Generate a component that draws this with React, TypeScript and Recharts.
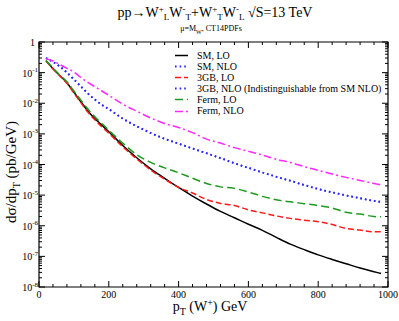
import React from 'react';
import { LineChart, Line, XAxis, YAxis, ReferenceArea, Legend } from 'recharts';

// pT of the W+ (GeV)
const ptBins = [
  20, 40, 60, 80, 100, 120, 140, 160, 180, 200, 240, 280, 320, 360, 400,
  440, 480, 520, 560, 600, 640, 680, 720, 760, 800, 840, 880, 920, 960, 980,
];

// dsigma/dpT (pb/GeV)
const smLo = [
  2.45e-1, 1.35e-1, 7.94e-2, 4.68e-2, 2.29e-2, 1.12e-2, 5.62e-3, 3.16e-3, 1.91e-3, 1.17e-3,
  4.17e-4, 1.66e-4, 7.24e-5, 3.55e-5, 1.78e-5, 9.33e-6, 5.13e-6, 2.95e-6, 1.82e-6, 1.12e-6,
  7.08e-7, 4.17e-7, 2.51e-7, 1.66e-7, 1.12e-7, 7.94e-8, 5.75e-8, 4.17e-8, 3.16e-8, 2.75e-8,
];
const smNlo = [
  3.02e-1, 2.24e-1, 1.58e-1, 1.0e-1, 6.03e-2, 3.55e-2, 2.09e-2, 1.32e-2, 8.91e-3, 6.46e-3,
  3.16e-3, 1.78e-3, 1.07e-3, 6.92e-4, 4.79e-4, 3.31e-4, 2.34e-4, 1.62e-4, 1.1e-4, 7.76e-5,
  5.5e-5, 3.98e-5, 2.95e-5, 2.14e-5, 1.58e-5, 1.23e-5, 9.77e-6, 7.94e-6, 6.46e-6, 6.03e-6,
];
const gb3Lo = [
  2.45e-1, 1.35e-1, 7.76e-2, 4.47e-2, 2.14e-2, 1.05e-2, 5.13e-3, 2.88e-3, 1.7e-3, 1.05e-3,
  3.8e-4, 1.51e-4, 6.61e-5, 3.31e-5, 1.78e-5, 1.17e-5, 7.24e-6, 5.37e-6, 4.57e-6, 3.31e-6,
  2.63e-6, 2.09e-6, 1.74e-6, 1.51e-6, 1.35e-6, 1.1e-6, 8.13e-7, 7.24e-7, 6.31e-7, 6.31e-7,
];
// indistinguishable from SM NLO
const gb3Nlo = [
  3.02e-1, 2.24e-1, 1.58e-1, 1.0e-1, 6.03e-2, 3.55e-2, 2.09e-2, 1.32e-2, 8.91e-3, 6.46e-3,
  3.16e-3, 1.78e-3, 1.07e-3, 6.92e-4, 4.79e-4, 3.31e-4, 2.34e-4, 1.62e-4, 1.1e-4, 7.76e-5,
  5.5e-5, 3.98e-5, 2.95e-5, 2.14e-5, 1.58e-5, 1.23e-5, 9.77e-6, 7.94e-6, 6.46e-6, 6.03e-6,
];
const fermLo = [
  2.51e-1, 1.41e-1, 8.32e-2, 5.01e-2, 2.51e-2, 1.26e-2, 6.46e-3, 3.63e-3, 2.19e-3, 1.32e-3,
  5.01e-4, 2.09e-4, 1.17e-4, 7.76e-5, 5.37e-5, 3.55e-5, 2.4e-5, 1.86e-5, 1.66e-5, 1.26e-5,
  9.12e-6, 7.08e-6, 6.03e-6, 5.25e-6, 4.57e-6, 3.8e-6, 2.75e-6, 2.4e-6, 2.0e-6, 1.95e-6,
];
const fermNlo = [
  2.82e-1, 2.4e-1, 1.82e-1, 1.38e-1, 1.05e-1, 6.92e-2, 4.79e-2, 3.47e-2, 2.51e-2, 1.82e-2,
  9.33e-3, 5.5e-3, 3.31e-3, 2.19e-3, 1.62e-3, 1.1e-3, 6.76e-4, 5.01e-4, 3.55e-4, 2.69e-4,
  2.04e-4, 1.48e-4, 1.17e-4, 8.51e-5, 6.46e-5, 4.9e-5, 3.8e-5, 3.02e-5, 2.4e-5, 2.14e-5,
];

const xMajorTicks = [0, 200, 400, 600, 800, 1000];
const yMajorTicks = [1e-8, 1e-7, 1e-6, 1e-5, 1e-4, 1e-3, 1e-2, 1e-1, 1];

const W = 399;
const H = 321;
const PLOT = { left: 39, right: 388, top: 42, bottom: 287 };

const series = [
  { key: 'smLo', name: 'SM, LO', color: '#000000', dash: undefined, width: 1.5 },
  { key: 'smNlo', name: 'SM, NLO', color: '#2a2aff', dash: '1.6 3', width: 1.8 },
  { key: 'gb3Lo', name: '3GB, LO', color: '#ff1a1a', dash: '6 3', width: 1.5 },
  { key: 'gb3Nlo', name: '3GB, NLO (Indistinguishable from SM NLO)', color: '#2a2aff', dash: '1.6 3', width: 1.8 },
  { key: 'fermLo', name: 'Ferm, LO', color: '#1e9a1e', dash: '8 4', width: 1.5 },
  { key: 'fermNlo', name: 'Ferm, NLO', color: '#ff2aff', dash: '8 3 2 3', width: 1.5 },
];

const data = ptBins.map((pt, i) => ({
  pt,
  smLo: smLo[i],
  smNlo: smNlo[i],
  gb3Lo: gb3Lo[i],
  gb3Nlo: gb3Nlo[i],
  fermLo: fermLo[i],
  fermNlo: fermNlo[i],
}));

// major + minor ticks (minor every 40 GeV, log minors 2..9)
const xTicks: number[] = [];
for (let v = 0; v <= 1000; v += 40) xTicks.push(v);
const yMajorSet = new Set(yMajorTicks);
const yTicks: number[] = [];
yMajorTicks.forEach((m, i) => {
  yTicks.push(m);
  if (i < yMajorTicks.length - 1) for (let k = 2; k <= 9; k++) yTicks.push(k * m);
});

function XTick(props: any) {
  const { x, payload } = props;
  const v = payload.value;
  const major = xMajorTicks.includes(v);
  const len = major ? 6 : 3;
  return (
    <g>
      <line x1={x} x2={x} y1={PLOT.bottom} y2={PLOT.bottom - len} stroke="#000" />
      <line x1={x} x2={x} y1={PLOT.top} y2={PLOT.top + len} stroke="#000" />
      {major && (
        <text x={x} y={PLOT.bottom + 11} textAnchor="middle" fontSize={10} fill="#000">
          {v}
        </text>
      )}
    </g>
  );
}

function YTick(props: any) {
  const { y, payload } = props;
  const v = payload.value;
  const major = yMajorSet.has(v);
  const len = major ? 6 : 3;
  const exp = Math.round(Math.log10(v));
  return (
    <g>
      <line x1={PLOT.left} x2={PLOT.left + len} y1={y} y2={y} stroke="#000" />
      <line x1={PLOT.right} x2={PLOT.right - len} y1={y} y2={y} stroke="#000" />
      {major &&
        (exp === 0 ? (
          <text x={PLOT.left - 4} y={y + 3.5} textAnchor="end" fontSize={10} fill="#000">
            1
          </text>
        ) : (
          <text x={PLOT.left - 1} y={y + 4} textAnchor="end" fontSize={10} fill="#000">
            10
            <tspan dy={-4.5} fontSize={7}>
              {exp}
            </tspan>
          </text>
        ))}
    </g>
  );
}

function LegendBox() {
  return (
    <div style={{ fontSize: 10, lineHeight: '11.1px', color: '#000' }}>
      {series.map((s) => (
        <div key={s.key} style={{ display: 'flex', alignItems: 'center', height: 11.1 }}>
          <svg width={14} height={11} style={{ display: 'block' }}>
            <line
              x1={0}
              x2={13}
              y1={5.5}
              y2={5.5}
              stroke={s.color}
              strokeWidth={s.width}
              strokeDasharray={s.dash}
            />
          </svg>
          <span style={{ marginLeft: 8, whiteSpace: 'nowrap' }}>{s.name}</span>
        </div>
      ))}
    </div>
  );
}

export default function App() {
  return (
    <div
      style={{
        position: 'absolute',
        left: 0,
        top: 0,
        width: W,
        height: H,
        background: '#fff',
        fontFamily: '"Liberation Serif", "DejaVu Serif", serif',
      }}
    >
      <LineChart width={W} height={H} data={data} margin={{ top: 42, right: 11, bottom: 0, left: 0 }}>
        <XAxis
          dataKey="pt"
          type="number"
          domain={[0, 1000]}
          ticks={xTicks}
          interval={0}
          height={34}
          tick={<XTick />}
          tickLine={false}
          axisLine={false}
        />
        <YAxis
          scale="log"
          type="number"
          domain={[1e-8, 1]}
          allowDataOverflow
          ticks={yTicks}
          interval={0}
          width={39}
          tick={<YTick />}
          tickLine={false}
          axisLine={false}
        />
        <ReferenceArea
          x1={0}
          x2={1000}
          y1={1e-8}
          y2={1}
          fill="none"
          stroke="#000"
          strokeWidth={1.2}
          ifOverflow="visible"
        />
        {series.map((s) => (
          <Line
            key={s.key}
            dataKey={s.key}
            name={s.name}
            type="monotone"
            stroke={s.color}
            strokeWidth={s.width}
            strokeDasharray={s.dash}
            dot={false}
            isAnimationActive={false}
          />
        ))}
        <Legend
          layout="vertical"
          align="center"
          verticalAlign="middle"
          content={<LegendBox />}
          wrapperStyle={{ left: 175, top: 50, width: 'auto' }}
        />
      </LineChart>
      <svg
        width={W}
        height={H}
        style={{ position: 'absolute', left: 0, top: 0, pointerEvents: 'none' }}
      >
        <text x={215} y={17} textAnchor="middle" fontSize={14} fill="#000">
          pp→W<tspan dy={-5} fontSize={9}>+</tspan>
          <tspan dy={7.5} fontSize={9}>L</tspan>
          <tspan dy={-2.5}>W</tspan>
          <tspan dy={-5} fontSize={9}>-</tspan>
          <tspan dy={7.5} fontSize={9}>T</tspan>
          <tspan dy={-2.5}>+W</tspan>
          <tspan dy={-5} fontSize={9}>+</tspan>
          <tspan dy={7.5} fontSize={9}>T</tspan>
          <tspan dy={-2.5}>W</tspan>
          <tspan dy={-5} fontSize={9}>-</tspan>
          <tspan dy={7.5} fontSize={9}>L</tspan>
          <tspan dy={-2.5}> √S=13 TeV</tspan>
        </text>
        <text x={211} y={31} textAnchor="middle" fontSize={8} fill="#000">
          μ=M<tspan dy={2.5} fontSize={6}>W</tspan>
          <tspan dy={-2.5}>, CT14PDFs</tspan>
        </text>
        <text x={210} y={311} textAnchor="middle" fontSize={14} fill="#000">
          p<tspan dy={4} fontSize={10}>T</tspan>
          <tspan dy={-4}> (W</tspan>
          <tspan dy={-5} fontSize={10}>+</tspan>
          <tspan dy={5}>) GeV</tspan>
        </text>
        <text
          transform="translate(16,172) rotate(-90)"
          textAnchor="middle"
          fontSize={15}
          fill="#000"
        >
          dσ/dp<tspan dy={4} fontSize={10}>T</tspan>
          <tspan dy={-4}> (pb/GeV)</tspan>
        </text>
      </svg>
    </div>
  );
}
